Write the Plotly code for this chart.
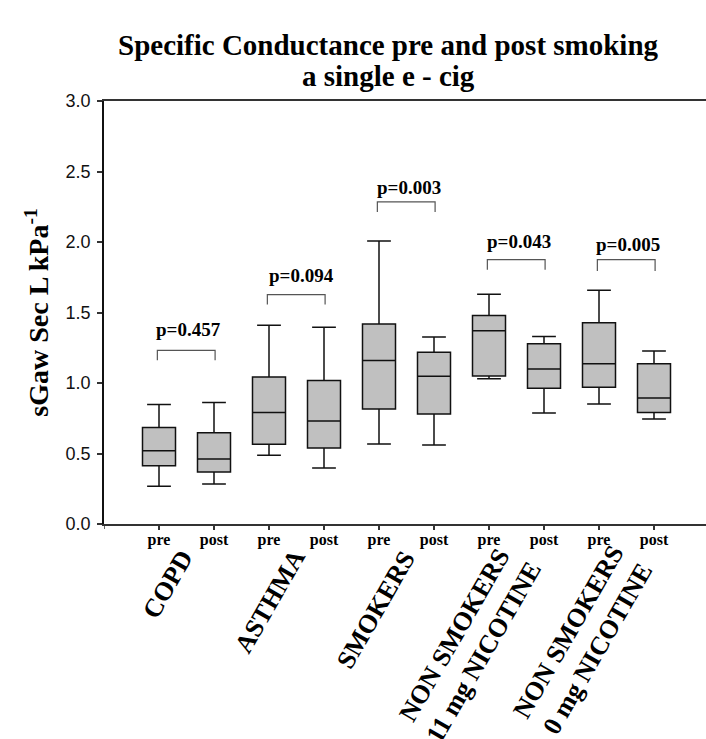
import plotly.graph_objects as go

# ---------------- data ----------------
groups = ["COPD", "ASTHMA", "SMOKERS", "NON SMOKERS<br>11 mg NICOTINE", "NON SMOKERS<br>0 mg NICOTINE"]
phase_labels = ["pre", "post", "pre", "post", "pre", "post", "pre", "post", "pre", "post"]
box_pos = [1, 2, 3, 4, 5, 6, 7, 8, 9, 10]

lower_whisker = [0.267, 0.284, 0.487, 0.397, 0.567, 0.560, 1.031, 0.787, 0.851, 0.745]
q1_vals       = [0.414, 0.369, 0.565, 0.539, 0.816, 0.780, 1.050, 0.962, 0.969, 0.790]
median_vals   = [0.520, 0.461, 0.790, 0.731, 1.159, 1.047, 1.371, 1.099, 1.137, 0.894]
q3_vals       = [0.684, 0.648, 1.043, 1.017, 1.418, 1.218, 1.478, 1.279, 1.428, 1.137]
upper_whisker = [0.847, 0.861, 1.409, 1.395, 2.007, 1.326, 1.629, 1.329, 1.657, 1.227]

p_values = ["p=0.457", "p=0.094", "p=0.003", "p=0.043", "p=0.005"]

# placement of the significance brackets (y of bar top / tick bottom / label)
bracket_top = [1.232, 1.627, 2.284, 1.875, 1.875]
bracket_bot = [1.161, 1.556, 2.213, 1.804, 1.795]
plabel_y    = [1.379, 1.764, 2.390, 2.005, 1.984]
plabel_x    = [1.53, 3.59, 5.54, 7.55, 9.53]

# placement of rotated group labels (x in data units, y in paper units)
group_x = [1.16, 3.015, 4.95, 6.64, 8.71]
group_y = [-0.143, -0.183, -0.203, -0.282, -0.275]

SERIF = "Liberation Serif"
AXC = "#333333"

fig = go.Figure()
fig.add_trace(go.Box(
    x=box_pos, q1=q1_vals, median=median_vals, q3=q3_vals,
    lowerfence=lower_whisker, upperfence=upper_whisker,
    fillcolor="#c0c0c0", line=dict(color="#111111", width=1.5),
    width=0.6, whiskerwidth=0.72, boxpoints=False, showlegend=False,
    hoverinfo="skip",
))

shapes = []
annotations = []
for i in range(len(groups)):
    xl = box_pos[2 * i] - 0.03
    xr = box_pos[2 * i + 1] + 0.02
    shapes.append(dict(
        type="path", xref="x", yref="y",
        path=f"M {xl},{bracket_bot[i]} L {xl},{bracket_top[i]} L {xr},{bracket_top[i]} L {xr},{bracket_bot[i]}",
        line=dict(color="#555555", width=1.2),
    ))
    annotations.append(dict(
        x=plabel_x[i], y=plabel_y[i], xref="x", yref="y", text=p_values[i],
        showarrow=False, xanchor="center", yanchor="middle",
        font=dict(family=SERIF, size=19, color="black", weight="bold"),
    ))
    annotations.append(dict(
        x=group_x[i], y=group_y[i], xref="x", yref="paper", text=groups[i],
        showarrow=False, xanchor="center", yanchor="middle", textangle=-60,
        font=dict(family=SERIF, size=26, color="black", weight="bold"),
    ))

# small tick at the origin (the y axis continues just below the x axis)
shapes.append(dict(type="line", xref="x", yref="paper", x0=0, x1=0, y0=0, y1=-5 / 423,
                   line=dict(color=AXC, width=1.5)))

# title (two lines)
title_lines = ["Specific Conductance pre and post smoking", "a single e - cig"]
title_y_px = [45, 76]
for txt, ypx in zip(title_lines, title_y_px):
    annotations.append(dict(
        x=(388 - 104) / 602, y=(523.7 - ypx) / 423, xref="paper", yref="paper",
        text=txt, showarrow=False, xanchor="center", yanchor="middle",
        font=dict(family=SERIF, size=29, color="black", weight="bold"),
    ))
# y-axis title
annotations.append(dict(
    x=-0.111, y=0.5, xref="paper", yref="paper",
    text="sGaw Sec L kPa<sup>-1</sup>", textangle=-90,
    showarrow=False, xanchor="center", yanchor="middle",
    font=dict(family=SERIF, size=28, color="black", weight="bold"),
))

fig.update_layout(
    width=706, height=739,
    margin=dict(l=104, r=0, t=101, b=215, pad=0),
    paper_bgcolor="white", plot_bgcolor="white",
    shapes=shapes, annotations=annotations,
    xaxis=dict(
        range=[0, 602 / 55], tickmode="array",
        tickvals=box_pos, ticktext=phase_labels,
        ticks="outside", ticklen=4, tickwidth=1.5, tickcolor=AXC,
        ticklabelstandoff=-4,
        showline=True, linecolor=AXC, linewidth=1.5, mirror=True,
        showgrid=False, zeroline=False,
        tickfont=dict(family=SERIF, size=16, color="black", weight="bold"),
    ),
    yaxis=dict(
        range=[0, 3], tickmode="array",
        tickvals=[0, 0.5, 1.0, 1.5, 2.0, 2.5, 3.0],
        ticktext=["0.0", "0.5", "1.0", "1.5", "2.0", "2.5", "3.0"],
        ticks="outside", ticklen=5, tickwidth=1.5, tickcolor=AXC,
        ticklabelstandoff=3,
        showline=True, linecolor="#111111", linewidth=1.5,
        showgrid=False, zeroline=False,
        tickfont=dict(family="Liberation Sans", size=18, color="#111111"),
    ),
)

fig.write_html("out.html", config={"displayModeBar": False},
               post_script="document.body.style.margin='0px';")
